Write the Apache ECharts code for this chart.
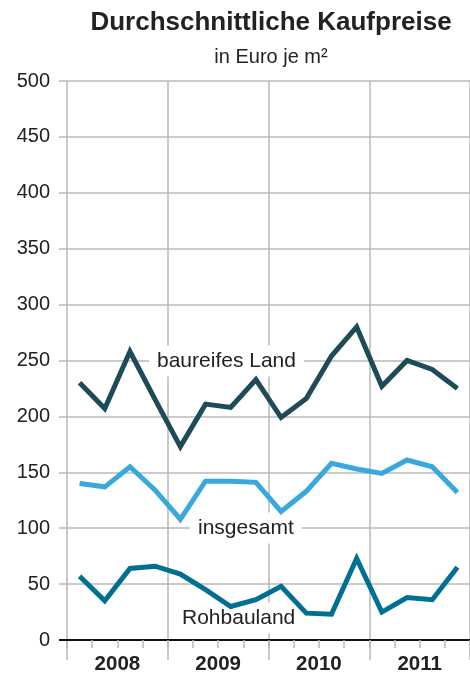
<!DOCTYPE html>
<html>
<head>
<meta charset="utf-8">
<script src="https://cdn.jsdelivr.net/npm/echarts@6/dist/echarts.min.js"></script>
<style>
html,body{margin:0;padding:0;background:#fff;overflow:hidden;}
#chart{width:470px;height:677px;}
</style>
</head>
<body>
<div id="chart"></div>
<script>
var quarters = ['Q1 2008','Q2 2008','Q3 2008','Q4 2008','Q1 2009','Q2 2009','Q3 2009','Q4 2009','Q1 2010','Q2 2010','Q3 2010','Q4 2010','Q1 2011','Q2 2011','Q3 2011','Q4 2011'];
var years = ['2008','2009','2010','2011'];
var yTicks = [0, 50, 100, 150, 200, 250, 300, 350, 400, 450, 500];
var baureifesLand = [230, 207, 258, 215, 173, 211, 208, 233, 199, 216, 254, 280, 227, 250, 242, 225];
var insgesamt = [140, 137, 155, 134, 108, 142, 142, 141, 115, 133, 158, 153, 149, 161, 155, 132];
var rohbauland = [57, 35, 64, 66, 59, 45, 30, 36, 48, 24, 23, 73, 25, 38, 36, 65];
var seriesNames = ['baureifes Land', 'insgesamt', 'Rohbauland'];

var gridColor = '#b9b9b9';
var textColor = '#222';
var font = 'Liberation Sans, Arial, Helvetica, sans-serif';

var chart = echarts.init(document.getElementById('chart'), null, {renderer: 'canvas'});

function mkSeries(name, data, color) {
  return {
    name: name, type: 'line', data: data, xAxisIndex: 0, yAxisIndex: 0,
    symbol: 'none', smooth: false, z: 3,
    lineStyle: {color: color, width: 5, join: 'miter', miterLimit: 10},
    emphasis: {disabled: true}
  };
}

var option = {
  animation: false,
  textStyle: {fontFamily: font},
  title: [
    {text: 'Durchschnittliche Kaufpreise', left: 266, top: 5, textAlign: 'center',
     textStyle: {fontSize: 26, fontWeight: 'bold', color: textColor, fontFamily: font}},
    {text: 'in Euro je m²', left: 266, top: 42, textAlign: 'center',
     textStyle: {fontSize: 20, fontWeight: 'normal', color: textColor, fontFamily: font}}
  ],
  grid: {left: 67, right: -5, top: 81, bottom: 37, containLabel: false},
  xAxis: [
    {type: 'category', data: quarters, boundaryGap: true, position: 'bottom', z: 5,
     axisLine: {show: true, lineStyle: {color: '#111', width: 2}},
     axisTick: {show: true, interval: 0, length: 8, lineStyle: {color: gridColor, width: 1.5}},
     axisLabel: {show: false}, splitLine: {show: false}},
    {type: 'category', data: years, boundaryGap: true, position: 'bottom', offset: 0,
     axisLine: {show: false},
     axisTick: {show: true, interval: 0, length: 20, lineStyle: {color: gridColor, width: 1.5}},
     axisLabel: {show: true, interval: 0, margin: 14, fontSize: 20.5, fontWeight: 'bold', color: textColor, fontFamily: font},
     splitLine: {show: true, interval: 0, lineStyle: {color: gridColor, width: 1.5}}}
  ],
  yAxis: {
    type: 'value', min: yTicks[0], max: yTicks[yTicks.length - 1], interval: 50,
    axisLine: {show: false},
    axisTick: {show: true, length: 8, lineStyle: {color: gridColor, width: 1.5}},
    axisLabel: {show: true, margin: 17, fontSize: 20, color: textColor, fontFamily: font},
    splitLine: {show: true, lineStyle: {color: gridColor, width: 1.5}}
  },
  series: [
    mkSeries(seriesNames[0], baureifesLand, '#1e4b58'),
    mkSeries(seriesNames[1], insgesamt, '#3aa8dd'),
    mkSeries(seriesNames[2], rohbauland, '#007092')
  ]
};
chart.setOption(option);

var y0 = chart.convertToPixel({yAxisIndex: 0}, 0);
var labelStyle = {fontSize: 21, fill: textColor, fontFamily: font, backgroundColor: '#fff', padding: [5, 8], verticalAlign: 'middle', align: 'left'};
chart.setOption({
  graphic: [
    {type: 'line', z: 10, shape: {x1: 59, y1: y0, x2: 68, y2: y0}, style: {stroke: '#111', lineWidth: 2}},
    {type: 'text', z: 1, x: 149, y: 361, style: Object.assign({text: seriesNames[0]}, labelStyle)},
    {type: 'text', z: 1, x: 190, y: 528, style: Object.assign({text: seriesNames[1]}, labelStyle)},
    {type: 'text', z: 1, x: 174, y: 618, style: Object.assign({text: seriesNames[2]}, labelStyle)}
  ]
});
</script>
</body>
</html>
